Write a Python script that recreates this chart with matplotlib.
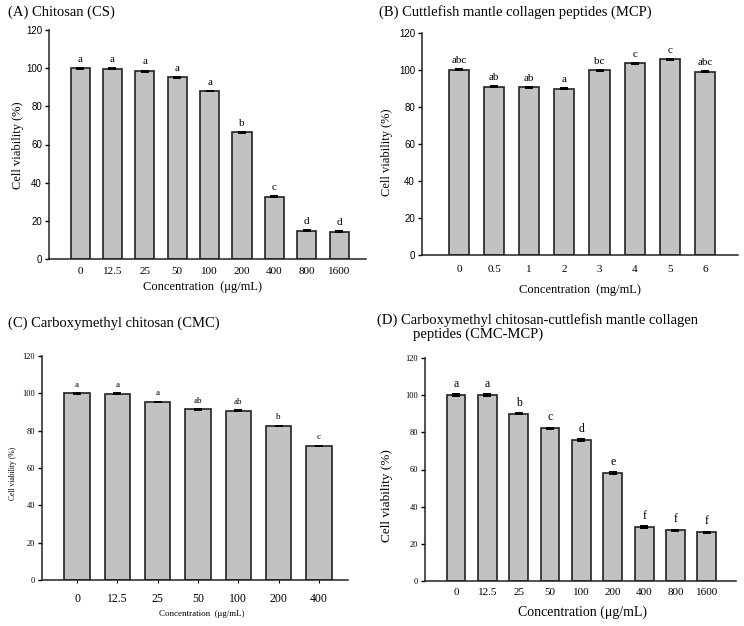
import numpy as np
import matplotlib
import matplotlib.pyplot as plt
matplotlib.use('Agg')

# data
conc_a = ['0', '12.5', '25', '50', '100', '200', '400', '800', '1600']
via_a = [100, 99.8, 98.4, 95.3, 88.0, 66.3, 32.7, 14.8, 14.3]
err_a = [0.2, 0.2, 0.3, 0.2, 0.2, 0.3, 0.2, 0.2, 0.2]
let_a = ['a', 'a', 'a', 'a', 'a', 'b', 'c', 'd', 'd']

conc_b = ['0', '0.5', '1', '2', '3', '4', '5', '6']
via_b = [100.2, 91.0, 90.7, 90.0, 99.8, 103.7, 105.8, 99.1]
err_b = [0.2, 0.2, 0.2, 0.2, 0.2, 0.2, 0.2, 0.3]
let_b = ['abc', 'ab', 'ab', 'a', 'bc', 'c', 'c', 'abc']

conc_c = ['0', '12.5', '25', '50', '100', '200', '400']
via_c = [100.1, 99.9, 95.4, 91.4, 90.8, 82.5, 71.8]
err_c = [0.2, 0.2, 0.2, 0.3, 0.2, 0.2, 0.2]
let_c = ['a', 'a', 'a', 'ab', 'ab', 'b', 'c']

conc_d = ['0', '12.5', '25', '50', '100', '200', '400', '800', '1600']
via_d = [100.0, 100.0, 90.0, 82.3, 75.8, 58.1, 29.0, 27.4, 26.2]
err_d = [0.4, 0.4, 0.3, 0.3, 0.4, 0.3, 0.4, 0.3, 0.4]
let_d = ['a', 'a', 'b', 'c', 'd', 'e', 'f', 'f', 'f']

W, H = 744, 626
serif = ['Liberation Serif', 'DejaVu Serif']
sans = ['Liberation Sans', 'DejaVu Sans']

fig = plt.figure(figsize=(W / 100, H / 100), dpi=100)


def px(x, y):
    return x / W, 1 - y / H


def panel(box, cats, vals, errs, lets, xlim, width, ytick_font, ytick_size, xtick_size, xpad, let_size, xtick_len=0):
    l, r, t, b = box
    ax = fig.add_axes([l / W, 1 - b / H, (r - l) / W, (b - t) / H])
    x = np.arange(len(cats))
    ax.bar(x, vals, width=width, color='#c2c2c2', edgecolor='#222222', linewidth=1.2, zorder=2)
    ax.errorbar(x, vals, yerr=errs, fmt='none', ecolor='black', elinewidth=1.2, capsize=3, capthick=1.4, zorder=3)
    for xi, v, e, s in zip(x, vals, errs, lets):
        ax.annotate(s, (xi, v + e), xytext=(0, 3), textcoords='offset points',
                    ha='center', va='bottom', fontsize=let_size, family=serif)
    ax.set_xlim(*xlim)
    ax.set_ylim(0, 120)
    ax.set_yticks(range(0, 121, 20))
    ax.set_xticks(x)
    ax.set_xticklabels(cats, family=serif, fontsize=xtick_size)
    for lab in ax.get_yticklabels():
        lab.set_family(ytick_font)
        lab.set_fontsize(ytick_size)
    ax.tick_params(axis='x', length=xtick_len, width=0.8, pad=xpad)
    ax.tick_params(axis='y', length=3, width=1, pad=2, direction='out')
    for sp in ['top', 'right']:
        ax.spines[sp].set_visible(False)
    for sp in ['left', 'bottom']:
        ax.spines[sp].set_linewidth(1.1)
        ax.spines[sp].set_color('#222222')
    return ax


panel((49, 366, 30, 259), conc_a, via_a, err_a, let_a, (-0.96, 8.83), 0.59, sans, 7, 8, 6, 8)
panel((422, 738, 33, 255), conc_b, via_b, err_b, let_b, (-1.05, 7.94), 0.57, sans, 7, 8, 7, 8)
panel((42, 348, 356, 580), conc_c, via_c, err_c, let_c, (-0.87, 6.72), 0.63, serif, 6, 8.5, 7, 6.5, xtick_len=2)
panel((425, 736, 358, 581), conc_d, via_d, err_d, let_d, (-0.99, 8.93), 0.6, serif, 6, 8, 5, 8.5)

# titles
fig.text(*px(8, 12), '(A) Chitosan (CS)', family=serif, fontsize=10.5, va='center')
fig.text(*px(379, 12), '(B) Cuttlefish mantle collagen peptides (MCP)', family=serif, fontsize=10.5, va='center')
fig.text(*px(8, 323), '(C) Carboxymethyl chitosan (CMC)', family=serif, fontsize=10.5, va='center')
fig.text(*px(377, 320), '(D) Carboxymethyl chitosan-cuttlefish mantle collagen', family=serif, fontsize=10.5, va='center')
fig.text(*px(413, 334), 'peptides (CMC-MCP)', family=serif, fontsize=10.5, va='center')

# axis labels
fig.text(*px(18, 145), 'Cell viability (%)', family=serif, fontsize=9, rotation=90, ha='center', va='center')
fig.text(*px(203, 287), 'Concentration  (\u03bcg/mL)', family=serif, fontsize=9, ha='center', va='center')
fig.text(*px(387, 152), 'Cell viability (%)', family=serif, fontsize=9, rotation=90, ha='center', va='center')
fig.text(*px(580, 290), 'Concentration  (mg/mL)', family=serif, fontsize=9, ha='center', va='center')
fig.text(*px(13, 473), 'Cell viability (%)', family=serif, fontsize=5.5, rotation=90, ha='center', va='center')
fig.text(*px(202, 614), 'Concentration  (\u03bcg/mL)', family=serif, fontsize=6.5, ha='center', va='center')
fig.text(*px(387, 496), 'Cell viability (%)', family=serif, fontsize=9.5, rotation=90, ha='center', va='center')
fig.text(*px(582, 612), 'Concentration (\u03bcg/mL)', family=serif, fontsize=10, ha='center', va='center')

fig.savefig('out.png', dpi=100, facecolor='white')
